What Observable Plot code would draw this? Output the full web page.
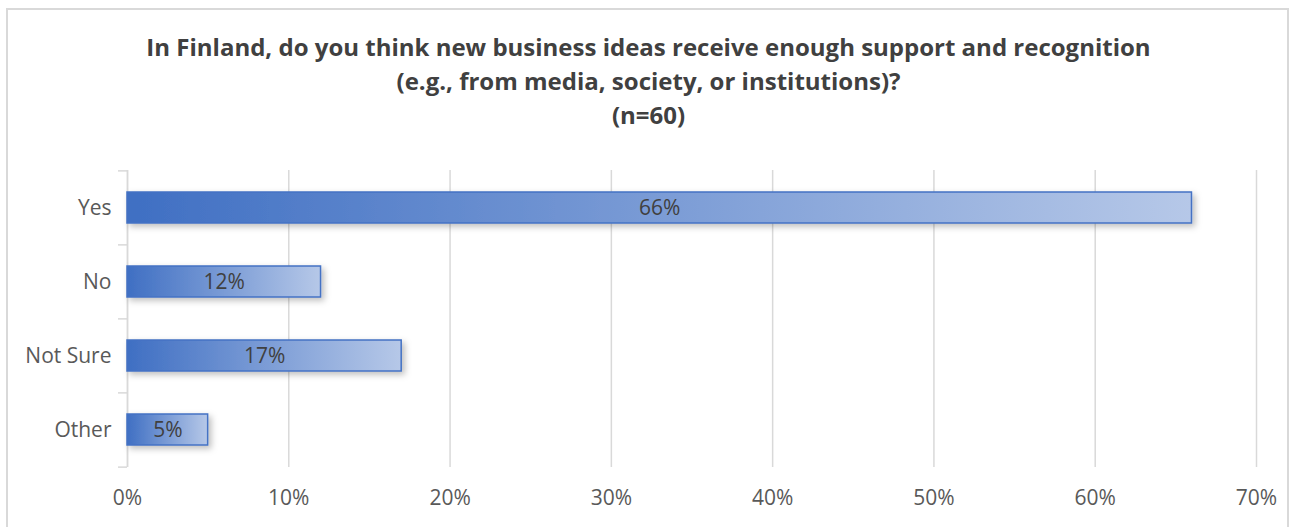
<!DOCTYPE html>
<html>
<head>
<meta charset="utf-8">
<script src="https://cdn.jsdelivr.net/npm/d3@7"></script>
<script src="https://cdn.jsdelivr.net/npm/@observablehq/plot@0.6"></script>
<style>
  html, body { margin: 0; padding: 0; background: #fff; }
  body { width: 1295px; height: 527px; position: relative; overflow: hidden; font-family: "Open Sans", Lato, sans-serif; }
  #frame { position: absolute; left: 6px; top: 8px; width: 1283px; height: 540px; border: 2px solid #d9d9d9; box-sizing: border-box; }
  #title { position: absolute; left: 0; top: 30px; width: 1297px; text-align: center; font-weight: bold; font-size: 24px; line-height: 34px; color: #404040; }
  #chart { position: absolute; left: 0; top: 150px; }
</style>
</head>
<body>
<div id="frame"></div>
<div id="title">In Finland, do you think new business ideas receive enough support and recognition<br>(e.g., from media, society, or institutions)?<br>(n=60)</div>
<div id="chart"></div>
<script>
const categories = ["Yes", "No", "Not Sure", "Other"];
const values = [0.66, 0.12, 0.17, 0.05];
const xTicks = [0, 0.1, 0.2, 0.3, 0.4, 0.5, 0.6, 0.7];

const data = categories.map((c, i) => ({category: c, value: values[i]}));

const defs = () => {
  const d = d3.create("svg:defs");
  const g = d.append("linearGradient").attr("id", "barGrad").attr("x1", "0").attr("x2", "1").attr("y1", "0").attr("y2", "0");
  g.append("stop").attr("offset", "0%").attr("stop-color", "#3f6fc3");
  g.append("stop").attr("offset", "100%").attr("stop-color", "#b6c8e8");
  const f = d.append("filter").attr("id", "shadow").attr("x", "-10%").attr("y", "-50%").attr("width", "130%").attr("height", "200%");
  f.append("feDropShadow").attr("dx", 3).attr("dy", 3).attr("stdDeviation", 3).attr("flood-color", "#000").attr("flood-opacity", 0.25);
  return d.node();
};

const step = 297 / 4;

const chart = Plot.plot({
  width: 1295,
  height: 377,
  marginLeft: 127,
  marginRight: 39,
  marginTop: 20,
  marginBottom: 60,
  style: {fontFamily: "'Open Sans', Lato, sans-serif", fontSize: "21px", color: "#595959", background: "transparent"},
  x: {domain: [0, 0.7], label: null},
  y: {domain: categories, paddingInner: 0.58, paddingOuter: 0.29, label: null},
  marks: [
    defs,
    Plot.gridX(xTicks, {stroke: "#d9d9d9", strokeOpacity: 1, strokeWidth: 1.5}),
    Plot.axisX(xTicks, {tickSize: 0, tickPadding: 23, tickFormat: d3.format(".0%"), fontSize: 21, fill: "#595959", label: null}),
    Plot.ruleX([0], {stroke: "#d9d9d9", strokeWidth: 1.5}),
    Plot.axisY({tickSize: 0, tickPadding: 16, fontSize: 21, fill: "#595959", label: null}),
    Plot.axisY({tickSize: 9, dy: -step / 2, text: null, stroke: "#d9d9d9", strokeWidth: 1.5, label: null}),
    Plot.axisY(["Other"], {tickSize: 9, dy: step / 2, text: null, stroke: "#d9d9d9", strokeWidth: 1.5, label: null}),
    Plot.barX(data, {x: "value", y: "category", fill: "url(#barGrad)", stroke: "#4472c4", strokeWidth: 1.5}),
    Plot.text(data, {x: d => d.value / 2, y: "category", text: d => d3.format(".0%")(d.value), fill: "#404040", fontSize: 21})
  ]
});
chart.querySelectorAll("g[aria-label='bar'] rect").forEach(r => r.setAttribute("filter", "url(#shadow)"));
document.getElementById("chart").appendChild(chart);
</script>
</body>
</html>
